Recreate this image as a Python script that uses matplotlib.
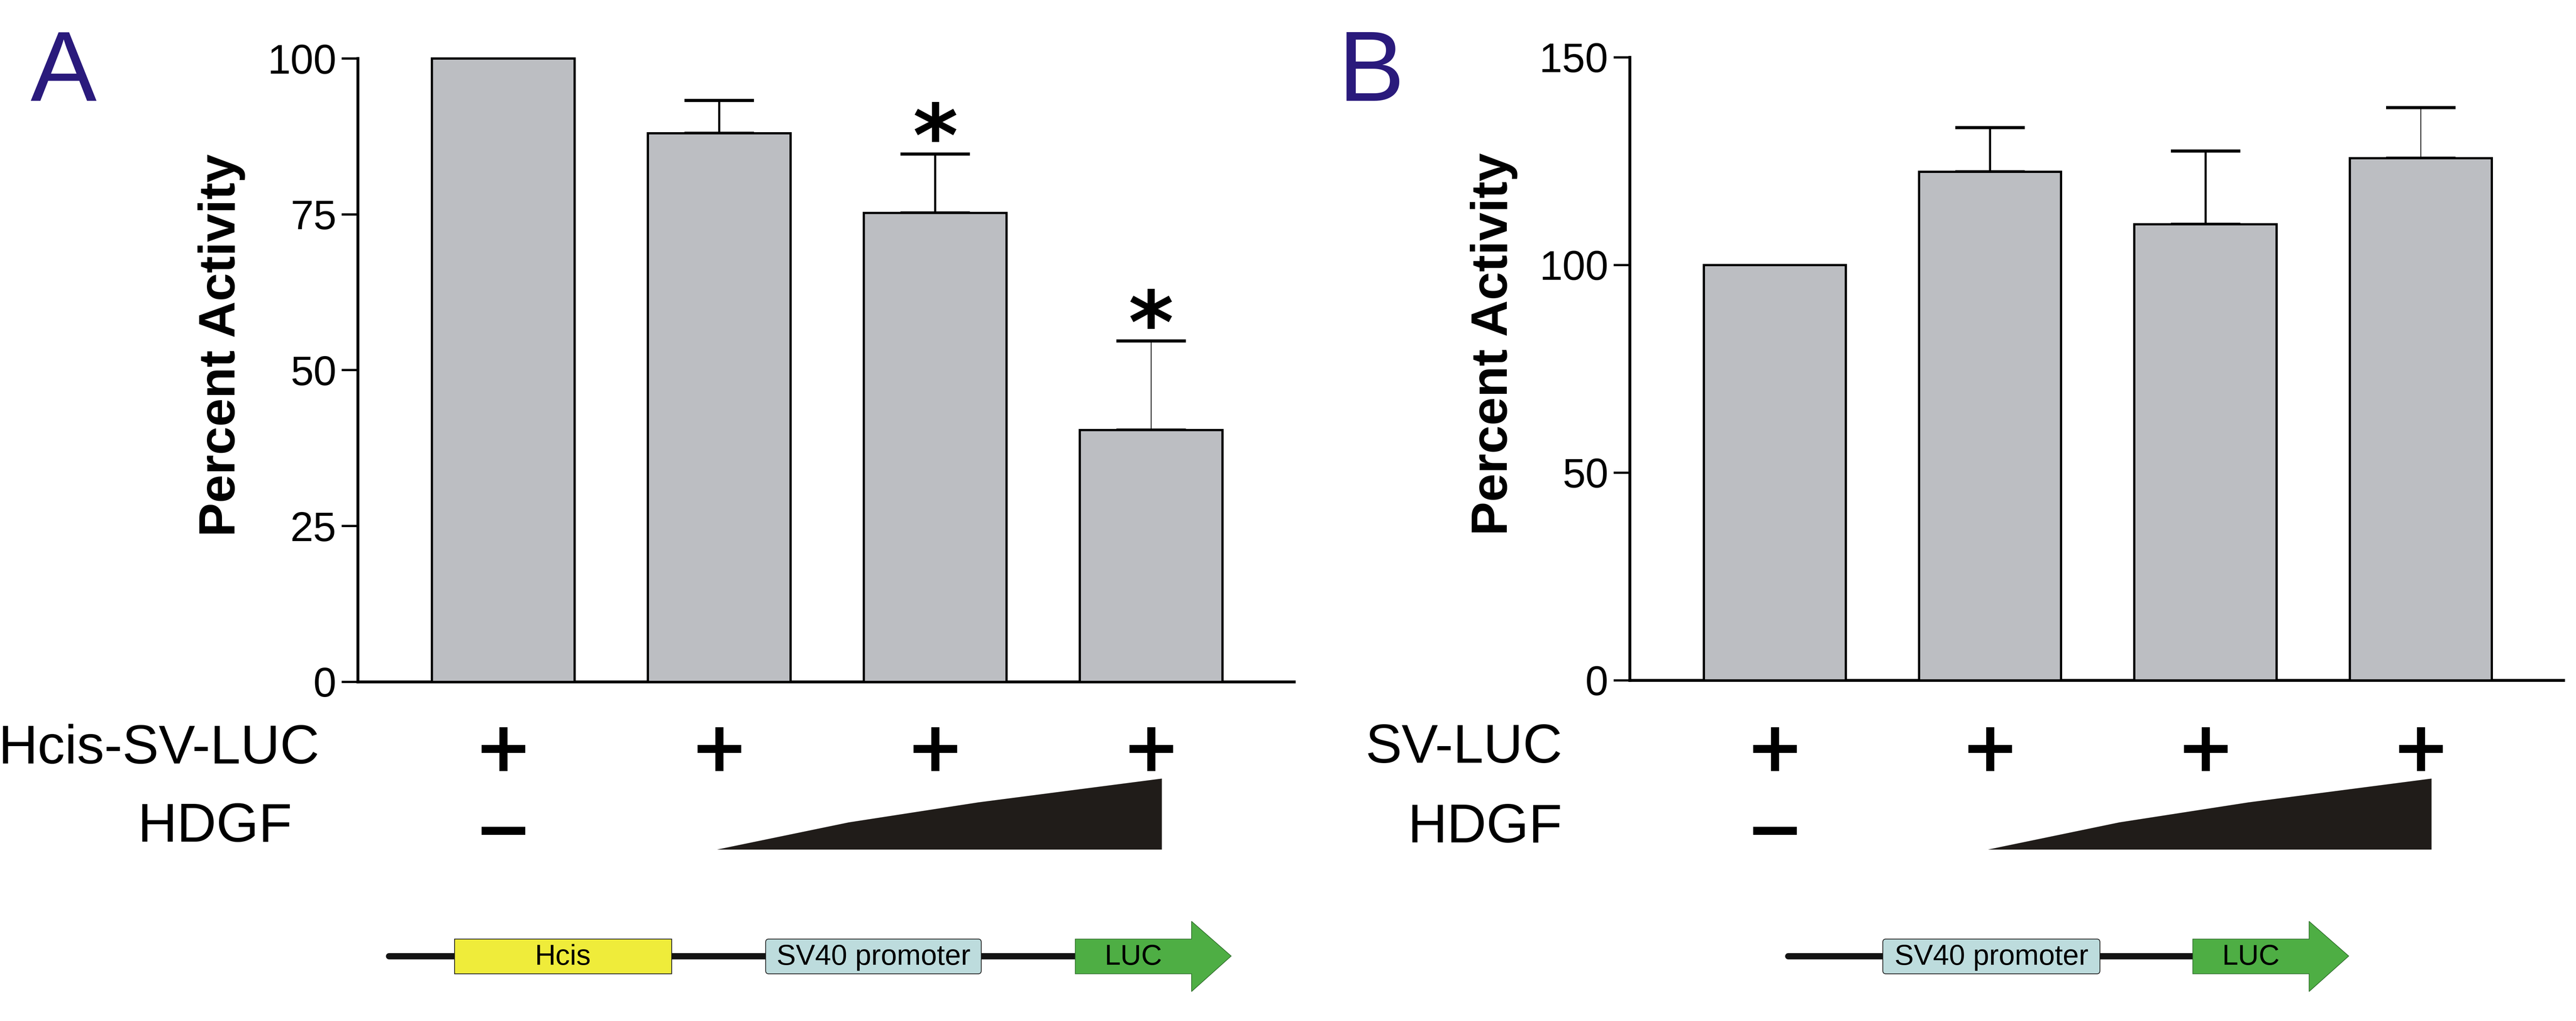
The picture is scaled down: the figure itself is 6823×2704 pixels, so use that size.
import matplotlib
matplotlib.use("Agg")
import matplotlib.pyplot as plt
from matplotlib import font_manager
from matplotlib.patches import Rectangle, FancyBboxPatch, Polygon
from matplotlib.transforms import blended_transform_factory

W, H = 6824, 2704

# --- data ---
a_values = [100, 88.0, 75.2, 40.4]
a_errors = [0, 5.3, 9.5, 14.3]
a_stars = ["", "", "*", "*"]
a_ticks = [0, 25, 50, 75, 100]

b_values = [100, 122.5, 109.8, 125.7]
b_errors = [0, 10.6, 17.7, 12.2]
b_stars = ["", "", "", ""]
b_ticks = [0, 50, 100, 150]

reporter_signs = ["+", "+", "+", "+"]
hdgf_signs = ["\u2212", "", "", ""]
a_rows = ["Hcis-SV-LUC", "HDGF"]
b_rows = ["SV-LUC", "HDGF"]

# widths of the error lines (last bar in A and B drawn thinner in the original)
a_err_lw = [4, 4, 4, 1.5]
b_err_lw = [4, 4, 4, 1.5]

names = {f.name for f in font_manager.fontManager.ttflist}
narrow = next((n for n in ["Liberation Sans Narrow", "DejaVu Sans Condensed", "Liberation Sans"]
               if n in names), "DejaVu Sans")
bold = "Liberation Sans" if "Liberation Sans" in names else "DejaVu Sans"

BAR = "#bcbec2"
NAVY = "#2a1a7c"

fig = plt.figure(figsize=(W / 100, H / 100), dpi=100)
over = fig.add_axes([0, 0, 1, 1])
over.set_xlim(0, W)
over.set_ylim(H, 0)
over.axis("off")

axA = fig.add_axes([948 / W, 1 - 1806 / H, (3428 - 948) / W, (1806 - 155) / H])
axB = fig.add_axes([4317 / W, 1 - 1802 / H, (6790 - 4317) / W, (1802 - 152) / H])


def draw_panel(ax, values, errors, stars, ticks, err_lw):
    x = list(range(len(values)))
    ax.bar(x, values, width=0.66, color=BAR, edgecolor="black", linewidth=4.3,
           zorder=3, clip_on=False)
    for xi, v, e, lw, s in zip(x, values, errors, err_lw, stars):
        if e > 0:
            ax.errorbar(xi, v, yerr=[[0], [e]], fmt="none", ecolor="black",
                        elinewidth=lw, capsize=66, capthick=6, zorder=2, clip_on=False)
        if s:
            ax.annotate(s, xy=(xi, v + e), xytext=(0, -58), textcoords="offset points",
                        ha="center", va="bottom", fontsize=165, fontweight="bold",
                        family="DejaVu Sans", annotation_clip=False)
    ax.set_xlim(-0.673, 3.663)
    ax.set_ylim(ticks[0], ticks[-1])
    ax.set_yticks(ticks)
    ax.set_xticks([])
    for side in ["top", "right"]:
        ax.spines[side].set_visible(False)
    for side in ["left", "bottom"]:
        ax.spines[side].set_linewidth(5.5)
    ax.tick_params(axis="y", length=31, width=4.3, pad=10, labelsize=79)
    for lab in ax.get_yticklabels():
        lab.set_family(narrow)
    ax.patch.set_visible(False)
    ax.set_ylabel("Percent Activity", family=bold, fontweight="bold", fontsize=97)
    ax.yaxis.set_label_coords(-0.12, 0.54)


draw_panel(axA, a_values, a_errors, a_stars, a_ticks, a_err_lw)
draw_panel(axB, b_values, b_errors, b_stars, b_ticks, b_err_lw)

# panel letters
over.text(80, 267, "A", fontsize=189, color=NAVY, family=bold, va="baseline", ha="left")
over.text(3545, 267, "B", fontsize=189, color=NAVY, family=bold, va="baseline", ha="left")


def draw_conditions(ax, rows, label_right, label_base):
    tr = blended_transform_factory(ax.transData, over.transData)
    for r, xr, yb in zip(rows, label_right, label_base):
        over.text(xr, yb, r, fontsize=104, family=narrow, ha="right", va="baseline")
    for i, s in enumerate(reporter_signs):
        over.text(i, 2042, s, transform=tr, fontsize=133, fontweight="bold",
                  family="DejaVu Sans", ha="center", va="baseline")
    for i, s in enumerate(hdgf_signs):
        if s:
            over.text(i, 2258, s, transform=tr, fontsize=133, fontweight="bold",
                      family="DejaVu Sans", ha="center", va="baseline")
    # wedge for increasing HDGF
    wedge = Polygon([(0.99, 2250), (1.6, 2178), (2.2, 2125), (3.05, 2062), (3.05, 2250)],
                    closed=True, transform=tr, facecolor="#201c19", edgecolor="none")
    over.add_patch(wedge)


draw_conditions(axA, a_rows, [846, 774], [2022, 2229])
draw_conditions(axB, b_rows, [4138, 4138], [2020, 2231])


def draw_construct(x0, boxes, luc_x, tip):
    yc = 2532
    over.plot([x0, luc_x + 20], [yc, yc], color="#141414", lw=12, solid_capstyle="round", zorder=1)
    for (bx0, bx1, label, col, rounded) in boxes:
        if rounded:
            p = FancyBboxPatch((bx0, 2487), bx1 - bx0, 92, boxstyle="round,pad=0,rounding_size=8",
                               facecolor=col, edgecolor="#222222", lw=1.5, zorder=2)
        else:
            p = Rectangle((bx0, 2487), bx1 - bx0, 92, facecolor=col, edgecolor="#222222",
                          lw=1.5, zorder=2)
        over.add_patch(p)
        over.text((bx0 + bx1) / 2, 2555, label, fontsize=55, family=narrow, ha="center",
                  va="baseline", zorder=3)
    shaft_end = tip - 105
    arrow = Polygon([(luc_x, 2487), (shaft_end, 2487), (shaft_end, 2440), (tip, 2532),
                     (shaft_end, 2626), (shaft_end, 2579), (luc_x, 2579)], closed=True,
                    facecolor="#4eae44", edgecolor="#2c6a28", lw=1.2, zorder=2)
    over.add_patch(arrow)
    over.text((luc_x + shaft_end) / 2, 2555, "LUC", fontsize=55, family=narrow, ha="center",
              va="baseline", zorder=3)


draw_construct(1030, [(1204, 1779, "Hcis", "#efec3a", False),
                      (2028, 2599, "SV40 promoter", "#bddcdd", True)], 2848, 3261)
draw_construct(4736, [(4987, 5562, "SV40 promoter", "#bddcdd", True)], 5808, 6221)

fig.savefig("out.png", dpi=100, facecolor="white")
